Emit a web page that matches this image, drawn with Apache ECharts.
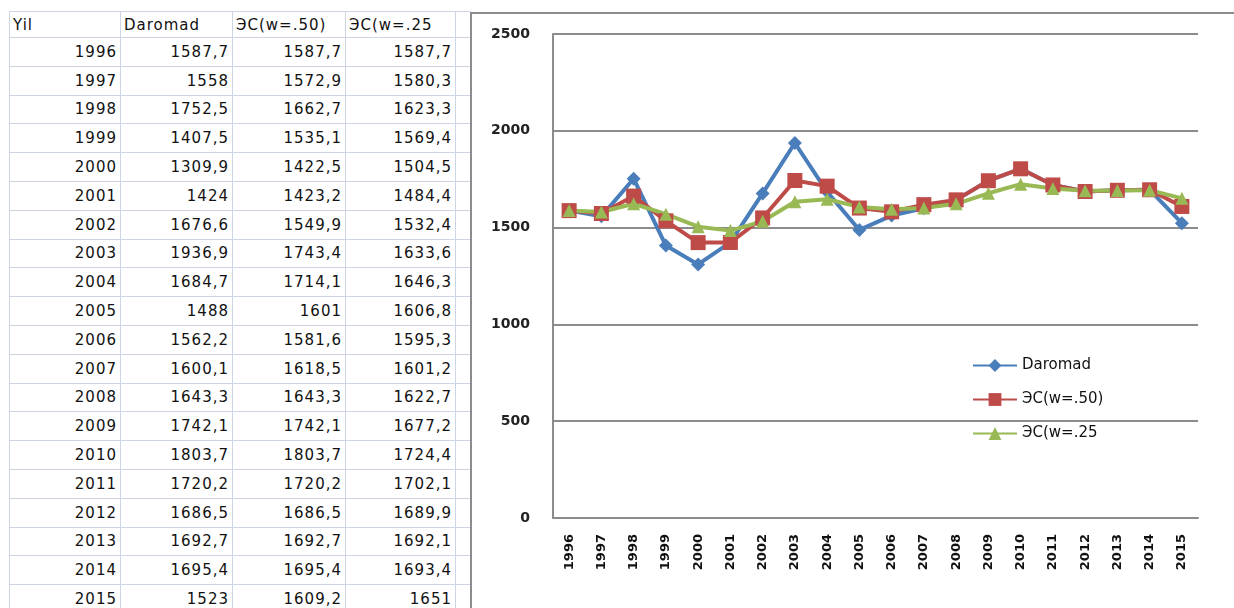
<!DOCTYPE html>
<html>
<head>
<meta charset="utf-8">
<script src="https://cdn.jsdelivr.net/npm/echarts@6/dist/echarts.min.js"></script>
<style>
  html, body { margin: 0; padding: 0; width: 1234px; height: 608px; overflow: hidden; background: #fff; }
  #sheet {
    position: absolute; left: 9px; top: 11px;
    border-collapse: collapse; table-layout: fixed;
    font-family: "DejaVu Sans", sans-serif; font-size: 15px; color: #111;
    letter-spacing: 1px;
  }
  #sheet td { border: 1px solid #cdd5e4; padding: 0 3px; height: 27.8px; white-space: nowrap; overflow: hidden; text-align: right; }
  #sheet tr.head td { height: 25px; text-align: left; }
  #frame {
    position: absolute; left: 470px; top: 12px; width: 800px; height: 700px;
    border-left: 2px solid #8c8c8c; border-top: 2px solid #8c8c8c; background: #fff;
  }
  #chart { position: absolute; left: 472px; top: 14px; width: 762px; height: 594px; }
</style>
</head>
<body>
<table id="sheet"></table>
<div id="frame"></div>
<div id="chart"></div>
<script>
// table header / years / series
const headers = ['Yil', 'Daromad', 'ЭС(w=.50)', 'ЭС(w=.25'];
const years = ['1996','1997','1998','1999','2000','2001','2002','2003','2004','2005',
               '2006','2007','2008','2009','2010','2011','2012','2013','2014','2015'];
const daromad = [1587.7, 1558, 1752.5, 1407.5, 1309.9, 1424, 1676.6, 1936.9, 1684.7, 1488,
                 1562.2, 1600.1, 1643.3, 1742.1, 1803.7, 1720.2, 1686.5, 1692.7, 1695.4, 1523];
const es50 = [1587.7, 1572.9, 1662.7, 1535.1, 1422.5, 1423.2, 1549.9, 1743.4, 1714.1, 1601,
              1581.6, 1618.5, 1643.3, 1742.1, 1803.7, 1720.2, 1686.5, 1692.7, 1695.4, 1609.2];
const es25 = [1587.7, 1580.3, 1623.3, 1569.4, 1504.5, 1484.4, 1532.4, 1633.6, 1646.3, 1606.8,
              1595.3, 1601.2, 1622.7, 1677.2, 1724.4, 1702.1, 1689.9, 1692.1, 1693.4, 1651];
const yTicks = [0, 500, 1000, 1500, 2000, 2500];

// spreadsheet part
const fmt = v => String(v).replace('.', ',');
const widths = [111, 112, 113, 110, 15];
let html = '<colgroup>' + widths.map(w => '<col style="width:' + w + 'px">').join('') + '</colgroup>';
html += '<tr class="head">' + headers.map(h => '<td>' + h + '</td>').join('') + '<td></td></tr>';
years.forEach((y, i) => {
  html += '<tr><td>' + y + '</td><td>' + fmt(daromad[i]) + '</td><td>' + fmt(es50[i]) +
          '</td><td>' + fmt(es25[i]) + '</td><td></td></tr>';
});
document.getElementById('sheet').innerHTML = html;

// chart part
const chart = echarts.init(document.getElementById('chart'));
const axisGray = '#8c8c8c';
chart.setOption({
  animation: false,
  color: ['#4a7ebb', '#be4b48', '#98b954'],
  textStyle: { fontFamily: 'DejaVu Sans' },
  grid: { left: 81, top: 20, right: 36, bottom: 90 },
  legend: {
    orient: 'vertical',
    left: 495, top: 339,
    itemWidth: 44, itemHeight: 16, itemGap: 19,
    textStyle: { color: '#111', fontSize: 15 },
    data: headers.slice(1)
  },
  xAxis: {
    type: 'category',
    data: years,
    axisLine: { lineStyle: { color: axisGray, width: 2 } },
    axisTick: { show: false },
    axisLabel: { rotate: 90, margin: 16, color: '#111', fontSize: 13, fontWeight: 'bold' }
  },
  yAxis: {
    type: 'value',
    min: yTicks[0], max: yTicks[yTicks.length - 1], interval: 500,
    axisLine: { show: true, lineStyle: { color: axisGray, width: 2 } },
    axisTick: { show: false },
    axisLabel: { margin: 23, color: '#222', fontSize: 14, fontWeight: 'bold', formatter: v => String(v) },
    splitLine: { lineStyle: { color: axisGray, width: 2 } }
  },
  series: [
    { name: headers[1], type: 'line', data: daromad, symbol: 'diamond', symbolSize: 14,
      lineStyle: { width: 4 } },
    { name: headers[2], type: 'line', data: es50, symbol: 'rect', symbolSize: 15,
      lineStyle: { width: 4 } },
    { name: headers[3], type: 'line', data: es25, symbol: 'triangle', symbolSize: 13,
      lineStyle: { width: 4 } }
  ]
});
</script>
</body>
</html>
